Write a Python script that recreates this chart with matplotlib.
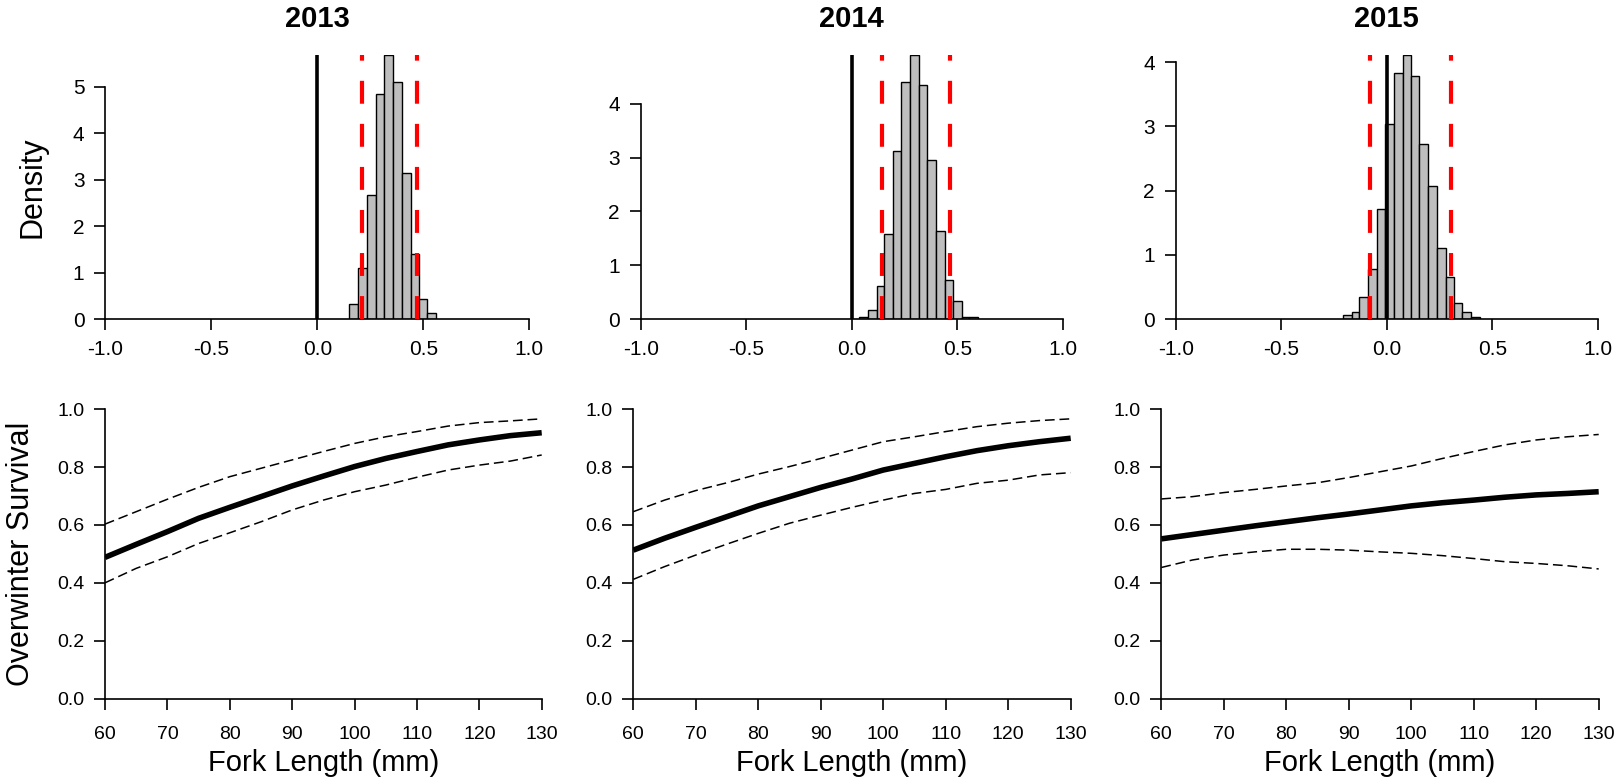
import matplotlib
matplotlib.use('Agg')
import matplotlib.pyplot as plt
import numpy as np

plt.rcParams['font.family'] = ['Liberation Sans', 'DejaVu Sans']
plt.rcParams['lines.scale_dashes'] = False

years = ['2013', '2014', '2015']

# histogram bins (edges) and densities
edges_2013 = [0.150, 0.193, 0.233, 0.276, 0.313, 0.356, 0.398, 0.441, 0.481, 0.516, 0.559]
dens_2013 = [0.32, 1.09, 2.67, 4.85, 5.68, 5.11, 3.15, 1.39, 0.43, 0.12]
edges_2014 = [0.033, 0.078, 0.118, 0.151, 0.194, 0.235, 0.277, 0.317, 0.357,
              0.399, 0.442, 0.478, 0.520, 0.557, 0.596]
dens_2014 = [0.03, 0.17, 0.61, 1.58, 3.12, 4.40, 4.92, 4.36, 2.96, 1.63, 0.72, 0.34, 0.03, 0.03]
edges_2015 = [-0.210, -0.167, -0.132, -0.087, -0.048, -0.008, 0.032, 0.075, 0.116,
              0.154, 0.195, 0.238, 0.278, 0.318, 0.357, 0.397, 0.441]
dens_2015 = [0.055, 0.11, 0.34, 0.78, 1.72, 3.03, 3.83, 4.12, 3.79, 2.72, 2.07,
             1.11, 0.65, 0.25, 0.11, 0.03]

# credible interval limits (red dashed)
ci_2013 = [0.209, 0.472]
ci_2014 = [0.144, 0.467]
ci_2015 = [-0.079, 0.305]

ymax_hist = [5.7, 4.92, 4.12]
yticks_hist = [[0, 1, 2, 3, 4, 5], [0, 1, 2, 3, 4], [0, 1, 2, 3, 4]]

# survival curves vs fork length
fork_len = [60, 65, 70, 75, 80, 85, 90, 95, 100, 105, 110, 115, 120, 125, 130]
mean_2013 = [0.488, 0.533, 0.577, 0.623, 0.661, 0.698, 0.735, 0.769, 0.802, 0.830,
             0.854, 0.877, 0.894, 0.909, 0.919]
upper_2013 = [0.603, 0.646, 0.689, 0.730, 0.767, 0.796, 0.825, 0.854, 0.882, 0.905,
              0.923, 0.942, 0.954, 0.960, 0.967]
lower_2013 = [0.400, 0.450, 0.490, 0.536, 0.573, 0.611, 0.652, 0.686, 0.715, 0.738,
              0.765, 0.790, 0.807, 0.821, 0.842]
mean_2014 = [0.513, 0.554, 0.592, 0.629, 0.666, 0.698, 0.730, 0.759, 0.790, 0.813,
             0.836, 0.857, 0.874, 0.888, 0.900]
upper_2014 = [0.646, 0.686, 0.719, 0.746, 0.776, 0.802, 0.830, 0.859, 0.888, 0.905,
              0.923, 0.940, 0.952, 0.961, 0.967]
lower_2014 = [0.412, 0.456, 0.496, 0.534, 0.571, 0.606, 0.634, 0.661, 0.686, 0.709,
              0.723, 0.744, 0.755, 0.773, 0.781]
mean_2015 = [0.552, 0.567, 0.582, 0.597, 0.611, 0.625, 0.638, 0.652, 0.666, 0.677,
             0.686, 0.696, 0.704, 0.709, 0.715]
upper_2015 = [0.690, 0.698, 0.712, 0.723, 0.735, 0.746, 0.764, 0.784, 0.804, 0.830,
              0.854, 0.877, 0.894, 0.905, 0.913]
lower_2015 = [0.453, 0.479, 0.496, 0.507, 0.516, 0.516, 0.513, 0.507, 0.502, 0.494,
              0.484, 0.473, 0.467, 0.459, 0.448]

hist_edges = [edges_2013, edges_2014, edges_2015]
hist_dens = [dens_2013, dens_2014, dens_2015]
cis = [ci_2013, ci_2014, ci_2015]
means = [mean_2013, mean_2014, mean_2015]
uppers = [upper_2013, upper_2014, upper_2015]
lowers = [lower_2013, lower_2014, lower_2015]

W, H = 1623, 784
fig = plt.figure(figsize=(W / 100, H / 100), dpi=100)

top_x = [(105.3, 529.3), (640.7, 1063.0), (1175.7, 1598.0)]
bot_x = [(105.0, 541.7), (633.3, 1070.7), (1161.3, 1598.7)]
top_y = (54.5, 319.0)
bot_y = (409.3, 698.5)


def pos(xr, yr):
    return [xr[0] / W, 1 - yr[1] / H, (xr[1] - xr[0]) / W, (yr[1] - yr[0]) / H]


def estilo(ax, fs):
    for s in ['top', 'right']:
        ax.spines[s].set_visible(False)
    ax.spines['left'].set_linewidth(1.2)
    ax.spines['bottom'].set_linewidth(1.2)
    ax.tick_params(direction='out', length=8, width=1.2, labelsize=fs, pad=7)


narrow = ['Liberation Sans Narrow', 'Liberation Sans', 'DejaVu Sans']

for i in range(3):
    # arriba: histogramas
    ax = fig.add_axes(pos(top_x[i], top_y))
    e = np.array(hist_edges[i])
    ax.bar(e[:-1], hist_dens[i], width=np.diff(e), align='edge',
           color='#bebebe', edgecolor='black', linewidth=1.0, zorder=2)
    ax.axvline(0, color='black', lw=2.6, zorder=3)
    for c in cis[i]:
        ax.axvline(c, color='red', lw=3.0, linestyle=(0, (16.5, 14.5)), zorder=4)
    ax.set_xlim(-1, 1)
    ax.set_ylim(0, ymax_hist[i])
    ax.set_xticks([-1.0, -0.5, 0.0, 0.5, 1.0])
    ax.set_xticklabels(['-1.0', '-0.5', '0.0', '0.5', '1.0'])
    ax.set_yticks(yticks_hist[i])
    ax.spines['left'].set_bounds(0, yticks_hist[i][-1])
    ax.spines['bottom'].set_bounds(-1, 1)
    estilo(ax, 15)
    ax.set_title(years[i], fontsize=21, fontweight='bold', pad=20)
    if i == 0:
        ax.set_ylabel('Density', fontsize=22, labelpad=18)

    # abajo: curvas de supervivencia
    ax2 = fig.add_axes(pos(bot_x[i], bot_y))
    ax2.plot(fork_len, means[i], color='black', lw=4.0, solid_capstyle='butt')
    ax2.plot(fork_len, uppers[i], color='black', lw=1.1, linestyle=(0, (7, 3.5)))
    ax2.plot(fork_len, lowers[i], color='black', lw=1.1, linestyle=(0, (7, 3.5)))
    ax2.set_xlim(60, 130)
    ax2.set_ylim(0, 1)
    ax2.set_xticks(list(range(60, 131, 10)))
    ax2.set_yticks([0.0, 0.2, 0.4, 0.6, 0.8, 1.0])
    ax2.set_yticklabels(['0.0', '0.2', '0.4', '0.6', '0.8', '1.0'])
    estilo(ax2, 14)
    ax2.tick_params(axis='x', pad=12)
    for lab in ax2.get_xticklabels() + ax2.get_yticklabels():
        lab.set_family(narrow)
    ax2.set_xlabel('Fork Length (mm)', fontsize=21, labelpad=4)
    if i == 0:
        ax2.set_ylabel('Overwinter Survival', fontsize=22, labelpad=15)

fig.savefig('out.png', dpi=100)
